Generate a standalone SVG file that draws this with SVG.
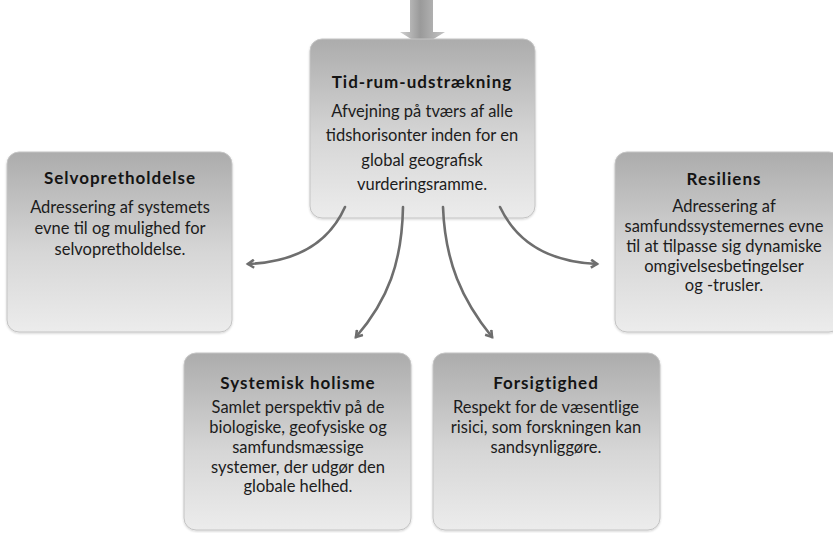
<svg xmlns="http://www.w3.org/2000/svg" width="833" height="533" viewBox="0 0 833 533">
<defs>
<linearGradient id="boxg" x1="0" y1="0" x2="0" y2="1">
<stop offset="0" stop-color="#acacac"/>
<stop offset="0.55" stop-color="#d6d6d6"/>
<stop offset="1" stop-color="#ececec"/>
</linearGradient>
<linearGradient id="arrg" x1="0" y1="0" x2="1" y2="0">
<stop offset="0" stop-color="#d0d0d0"/>
<stop offset="0.45" stop-color="#9a9a9a"/>
<stop offset="1" stop-color="#c4c4c4"/>
</linearGradient>
<marker id="ah" markerWidth="10" markerHeight="10" refX="7" refY="5" orient="auto" markerUnits="userSpaceOnUse">
<polyline points="1,1 7,5 1,9" fill="none" stroke="#6e6e6e" stroke-width="2.6" stroke-linejoin="miter"/>
</marker>
<filter id="sh" x="-5%" y="-5%" width="110%" height="110%">
<feDropShadow dx="0" dy="1" stdDeviation="1" flood-color="#000" flood-opacity="0.18"/>
</filter>
</defs>
<style>
.box{fill:url(#boxg);stroke:#c4c4c4;stroke-width:1;filter:url(#sh)}
.t{font-family:Lato,"Open Sans","DejaVu Sans",sans-serif;font-weight:bold;font-size:17px;fill:#141414;text-anchor:middle;letter-spacing:1px}
.b{font-family:Lato,"Open Sans","DejaVu Sans",sans-serif;font-size:16.5px;fill:#1c1c1c;text-anchor:middle}
.c{fill:none;stroke:#6e6e6e;stroke-width:2.6;stroke-linecap:round;marker-end:url(#ah)}
</style>
<g id="input-arrow">
<path d="M410,0 H433 V32 H445 L422,46 L400,32 H410 Z" fill="url(#arrg)"/>
</g>
<g id="node-tid">
<rect class="box" x="310" y="39" width="225" height="179" rx="12"/>
<text class="t" x="422" y="88">Tid-rum-udstrækning</text>
<text class="b" x="422" y="117">Afvejning på tværs af alle</text>
<text class="b" x="422" y="141">tidshorisonter inden for en</text>
<text class="b" x="422" y="166">global geografisk</text>
<text class="b" x="422" y="190">vurderingsramme.</text>
</g>
<g id="node-selv">
<rect class="box" x="7" y="152" width="225" height="180" rx="12"/>
<text class="t" x="120" y="184">Selvopretholdelse</text>
<text class="b" x="120" y="213">Adressering af systemets</text>
<text class="b" x="120" y="234">evne til og mulighed for</text>
<text class="b" x="120" y="255">selvopretholdelse.</text>
</g>
<g id="node-resiliens">
<rect class="box" x="615" y="152" width="226" height="180" rx="12"/>
<text class="t" x="724" y="185">Resiliens</text>
<text class="b" x="724" y="212">Adressering af</text>
<text class="b" x="724" y="232">samfundssystemernes evne</text>
<text class="b" x="724" y="252">til at tilpasse sig dynamiske</text>
<text class="b" x="724" y="272">omgivelsesbetingelser</text>
<text class="b" x="724" y="291">og -trusler.</text>
</g>
<g id="node-holisme">
<rect class="box" x="184" y="353" width="227" height="177" rx="12"/>
<text class="t" x="298" y="389">Systemisk holisme</text>
<text class="b" x="298" y="413">Samlet perspektiv på de</text>
<text class="b" x="298" y="433">biologiske, geofysiske og</text>
<text class="b" x="298" y="453">samfundsmæssige</text>
<text class="b" x="298" y="473">systemer, der udgør den</text>
<text class="b" x="298" y="492">globale helhed.</text>
</g>
<g id="node-forsigtighed">
<rect class="box" x="433" y="353" width="227" height="177" rx="12"/>
<text class="t" x="546" y="389">Forsigtighed</text>
<text class="b" x="546" y="413">Respekt for de væsentlige</text>
<text class="b" x="546" y="433">risici, som forskningen kan</text>
<text class="b" x="546" y="453">sandsynliggøre.</text>
</g>
<g id="connectors">
<path class="c" d="M345,207 C328,245 295,262 248,264"/>
<path class="c" d="M403,207 C402,262 388,300 356,337"/>
<path class="c" d="M443,207 C445,262 462,300 492,337"/>
<path class="c" d="M500,207 C518,245 552,262 597,264"/>
</g>
</svg>
